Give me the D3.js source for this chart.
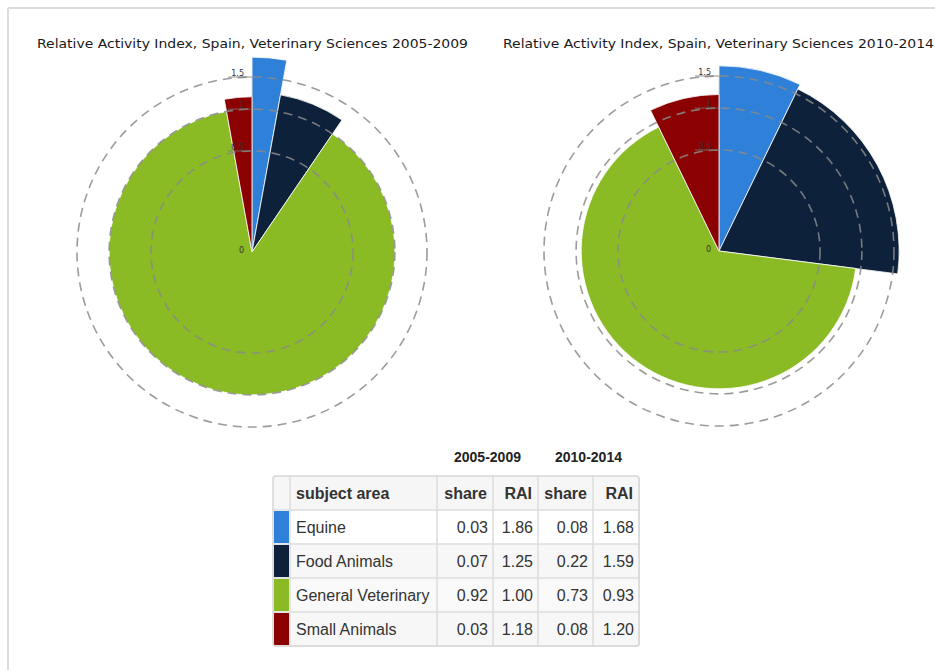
<!DOCTYPE html>
<html>
<head>
<meta charset="utf-8">
<script src="https://cdn.jsdelivr.net/npm/d3@7"></script>
<style>
  html, body { margin: 0; padding: 0; background: #fff; }
  svg { display: block; }
</style>
</head>
<body>
<svg id="chart" width="935" height="670"></svg>
<script>
const categories = ["Equine", "Food Animals", "General Veterinary", "Small Animals"];
const categoryColors = ["#2f80d9", "#0d213b", "#8aba24", "#8b0000"];
const periods = ["2005-2009", "2010-2014"];
const share2005 = [0.03, 0.07, 0.92, 0.03];
const rai2005 = [1.86, 1.25, 1.00, 1.18];
const share2010 = [0.08, 0.22, 0.73, 0.08];
const rai2010 = [1.68, 1.59, 0.93, 1.20];
const radialTicks = [0, 0.5, 1, 1.5];
const radialTickLabels = ["0", "0.5", "1", "1.5"];
const titles = [
  "Relative Activity Index, Spain, Veterinary Sciences 2005-2009",
  "Relative Activity Index, Spain, Veterinary Sciences 2010-2014"
];
const tableColumns = ["subject area", "share", "RAI", "share", "RAI"];

const svg = d3.select("#chart");

// page frame (top and left lines)
svg.append("line").attr("x1", 8).attr("y1", 8).attr("x2", 935).attr("y2", 8)
  .attr("stroke", "#dcdcdc").attr("stroke-width", 2);
svg.append("line").attr("x1", 8).attr("y1", 8).attr("x2", 8).attr("y2", 670)
  .attr("stroke", "#dcdcdc").attr("stroke-width", 2);

const r = d3.scaleSqrt().domain([0, 1.5]).range([0, 175]);

const charts = [
  { title: titles[0], shares: share2005, rai: rai2005, cx: 252, cy: 252, tx: 37 },
  { title: titles[1], shares: share2010, rai: rai2010, cx: 719, cy: 251, tx: 503 }
];

charts.forEach(c => {
  svg.append("text")
    .attr("x", c.tx).attr("y", 48)
    .attr("font-family", "DejaVu Sans, Verdana, sans-serif")
    .attr("font-size", 12)
    .attr("fill", "#1a1a1a")
    .attr("textLength", 431)
    .attr("lengthAdjust", "spacingAndGlyphs")
    .text(c.title);

  const g = svg.append("g").attr("transform", `translate(${c.cx},${c.cy})`);
  const data = categories.map((name, i) => ({ name, share: c.shares[i], rai: c.rai[i], color: categoryColors[i] }));
  const pie = d3.pie().sort(null).value(d => d.share);
  const arc = d3.arc().innerRadius(0).outerRadius(d => r(d.data.rai));

  g.selectAll("path.slice").data(pie(data)).join("path")
    .attr("class", "slice")
    .attr("d", arc)
    .attr("fill", d => d.data.color)
    .attr("stroke", "#fff")
    .attr("stroke-width", 0.8);

  // axis line
  g.append("line").attr("x1", 0).attr("y1", 0).attr("x2", 0).attr("y2", -r(1.5))
    .attr("stroke", "#999").attr("stroke-width", 0.6).attr("opacity", 0.6);

  // dashed grid circles
  g.selectAll("circle.grid").data(radialTicks.filter(t => t > 0)).join("circle")
    .attr("class", "grid")
    .attr("r", d => r(d))
    .attr("fill", "none")
    .attr("stroke", "#8a8a8a")
    .attr("stroke-opacity", 0.85)
    .attr("stroke-width", 1.6)
    .attr("stroke-dasharray", "9,6");

  // tick marks and labels
  const ticks = g.selectAll("g.tick").data(radialTicks).join("g")
    .attr("class", "tick")
    .attr("transform", d => `translate(0,${-r(d)})`);
  ticks.filter(d => d > 0).append("line")
    .attr("x1", -24).attr("x2", 0).attr("y1", 0).attr("y2", 0)
    .attr("stroke", "#777").attr("stroke-width", 0.8);
  ticks.append("text")
    .attr("x", -8).attr("y", d => d === 0 ? 1 : -1)
    .attr("text-anchor", "end")
    .attr("font-family", "DejaVu Sans, sans-serif")
    .attr("font-size", 8)
    .attr("fill", "#333")
    .text((d, i) => radialTickLabels[i]);
});

// table
const colX = [273, 290, 437, 493, 538, 593, 639];
const rowY = [476, 510, 544, 578, 612, 646];
const rowFills = ["#f6f6f6", "#ffffff", "#f7f7f7", "#f9f9f9", "#f7f7f7"];
const tg = svg.append("g");

// shadow
tg.append("rect").attr("x", colX[0] + 1).attr("y", rowY[0] + 1)
  .attr("width", colX[6] - colX[0]).attr("height", rowY[5] - rowY[0])
  .attr("rx", 3).attr("fill", "#e6e6e6");

tg.selectAll("rect.row").data(rowFills).join("rect")
  .attr("class", "row")
  .attr("x", colX[0]).attr("y", (d, i) => rowY[i])
  .attr("width", colX[6] - colX[0]).attr("height", (d, i) => rowY[i + 1] - rowY[i])
  .attr("fill", d => d);

// swatches
tg.selectAll("rect.sw").data(categoryColors).join("rect")
  .attr("class", "sw")
  .attr("x", colX[0] + 1).attr("y", (d, i) => rowY[i + 1] + 1)
  .attr("width", colX[1] - colX[0] - 2).attr("height", (d, i) => rowY[i + 2] - rowY[i + 1] - 2)
  .attr("fill", d => d);

// grid lines
rowY.slice(1, 5).forEach(y => {
  tg.append("line").attr("x1", colX[0]).attr("x2", colX[6]).attr("y1", y).attr("y2", y)
    .attr("stroke", "#dddddd").attr("stroke-width", 1.5);
});
colX.slice(1, 6).forEach(x => {
  tg.append("line").attr("x1", x).attr("x2", x).attr("y1", rowY[0]).attr("y2", rowY[5])
    .attr("stroke", "#dddddd").attr("stroke-width", 1.5);
});
tg.append("rect").attr("x", colX[0]).attr("y", rowY[0])
  .attr("width", colX[6] - colX[0]).attr("height", rowY[5] - rowY[0])
  .attr("rx", 3).attr("fill", "none").attr("stroke", "#d6d6d6").attr("stroke-width", 1.5);

const font = "Liberation Sans, Arial, sans-serif";
// period headers
periods.forEach((p, i) => {
  tg.append("text")
    .attr("x", (colX[2 + 2 * i] + colX[4 + 2 * i]) / 2).attr("y", 462)
    .attr("text-anchor", "middle")
    .attr("font-family", font).attr("font-size", 14).attr("font-weight", "bold")
    .attr("fill", "#222")
    .text(p);
});

// column headers
tableColumns.forEach((h, i) => {
  const left = i === 0;
  tg.append("text")
    .attr("x", left ? colX[1] + 6 : colX[i + 2] - 6)
    .attr("y", (rowY[0] + rowY[1]) / 2 + 6)
    .attr("text-anchor", left ? "start" : "end")
    .attr("font-family", font).attr("font-size", 16).attr("font-weight", "bold")
    .attr("fill", "#333")
    .text(h);
});

// body
categories.forEach((name, k) => {
  const cells = [name, share2005[k].toFixed(2), rai2005[k].toFixed(2), share2010[k].toFixed(2), rai2010[k].toFixed(2)];
  const y = (rowY[k + 1] + rowY[k + 2]) / 2 + 6;
  cells.forEach((v, i) => {
    const left = i === 0;
    tg.append("text")
      .attr("x", left ? colX[1] + 6 : colX[i + 2] - 5)
      .attr("y", y)
      .attr("text-anchor", left ? "start" : "end")
      .attr("font-family", font).attr("font-size", 16)
      .attr("fill", "#333")
      .text(v);
  });
});
</script>
</body>
</html>
